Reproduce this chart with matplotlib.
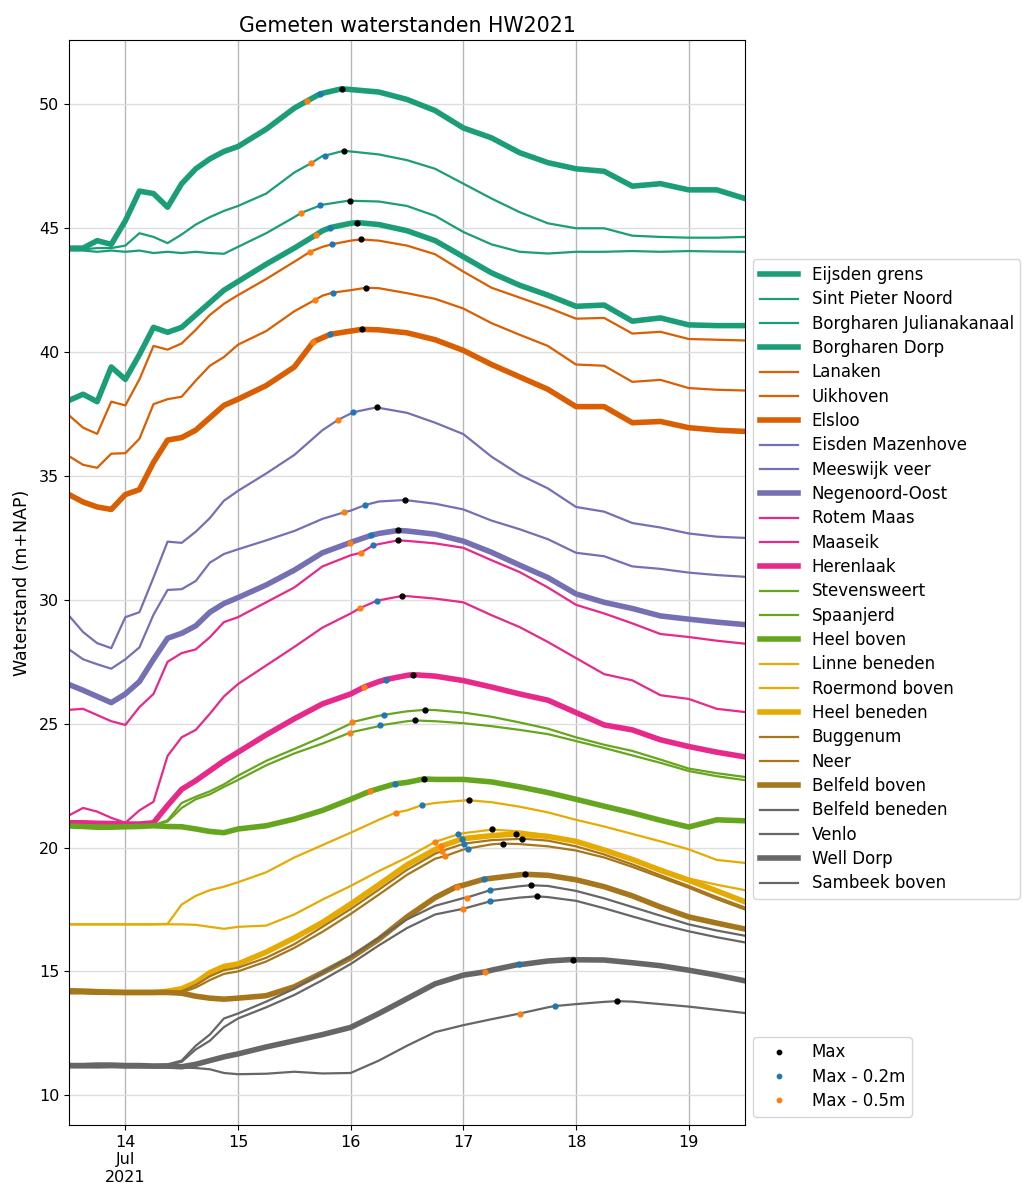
#!/usr/bin/env python3
"""Measured water levels along the Meuse during the July 2021 flood (HW2021),
one line per gauge, with the peak and the moments the rising limb came
within 0.2 m and 0.5 m of that peak."""
import matplotlib

matplotlib.use("Agg")

import matplotlib.pyplot as plt
import numpy as np
import pandas as pd

# Time axis, day of July 2021 (fractional days).
DAYS = [13.5, 13.625, 13.75, 13.875, 14.0, 14.125, 14.25, 14.375, 14.5, 14.625,
        14.75, 14.875, 15.0, 15.25, 15.5, 15.75, 16.0, 16.25, 16.5, 16.75,
        17.0, 17.25, 17.5, 17.75, 18.0, 18.25, 18.5, 18.75, 19.0, 19.25, 19.5]

# Water levels in m+NAP per gauge, on DAYS.
eijsden_grens = [44.2, 44.2, 44.5, 44.35, 45.3, 46.5, 46.4, 45.85, 46.8, 47.4, 47.8, 48.1, 48.3, 49.0, 49.85, 50.45,
                 50.6, 50.5, 50.2, 49.75, 49.05, 48.65, 48.05, 47.65, 47.4, 47.3, 46.7, 46.8, 46.55, 46.55, 46.2]
sint_pieter_noord = [44.15, 44.15, 44.2, 44.2, 44.3, 44.8, 44.65, 44.4, 44.75, 45.15, 45.45, 45.7, 45.9, 46.4, 47.25,
                     47.92, 48.1, 47.98, 47.75, 47.4, 46.8, 46.2, 45.65, 45.2, 45.0, 45.0, 44.7, 44.65, 44.62, 44.62,
                     44.65]
borgharen_julianakanaal = [44.1, 44.1, 44.05, 44.1, 44.05, 44.1, 44.0, 44.05, 44.0, 44.05, 44.0, 43.97, 44.25, 44.8,
                           45.45, 45.95, 46.11, 46.08, 45.9, 45.5, 44.85, 44.35, 44.05, 43.98, 44.05, 44.05, 44.08,
                           44.05, 44.08, 44.06, 44.05]
borgharen_dorp = [38.05, 38.3, 38.0, 39.4, 38.9, 39.9, 41.0, 40.8, 41.0, 41.5, 42.0, 42.5, 42.85, 43.55, 44.2, 44.9,
                  45.2, 45.15, 44.9, 44.5, 43.85, 43.2, 42.7, 42.3, 41.85, 41.9, 41.25, 41.38, 41.1, 41.07, 41.07]
lanaken = [37.45, 36.95, 36.7, 38.0, 37.85, 38.9, 40.25, 40.1, 40.35, 40.9, 41.5, 41.95, 42.3, 42.95, 43.65, 44.25,
           44.5, 44.5, 44.3, 43.95, 43.25, 42.6, 42.2, 41.8, 41.35, 41.38, 40.75, 40.82, 40.53, 40.5, 40.47]
uikhoven = [35.8, 35.45, 35.33, 35.9, 35.92, 36.5, 37.9, 38.1, 38.2, 38.85, 39.45, 39.8, 40.3, 40.85, 41.65, 42.28,
            42.5, 42.58, 42.38, 42.15, 41.76, 41.17, 40.7, 40.25, 39.5, 39.45, 38.8, 38.88, 38.55, 38.48, 38.45]
elsloo = [34.25, 33.95, 33.75, 33.65, 34.25, 34.45, 35.55, 36.45, 36.55, 36.85, 37.35, 37.85, 38.1, 38.65, 39.4, 40.58,
          40.85, 40.9, 40.78, 40.5, 40.07, 39.5, 39.0, 38.5, 37.8, 37.8, 37.15, 37.2, 36.95, 36.85, 36.8]
eisden_mazenhove = [29.36, 28.7, 28.25, 28.05, 29.3, 29.5, 30.9, 32.35, 32.3, 32.75, 33.3, 34.0, 34.4, 35.1, 35.85,
                    36.85, 37.52, 37.75, 37.55, 37.15, 36.69, 35.78, 35.05, 34.5, 33.75, 33.56, 33.1, 32.92, 32.68,
                    32.55, 32.5]
meeswijk_veer = [28.0, 27.6, 27.4, 27.22, 27.6, 28.08, 29.4, 30.4, 30.43, 30.76, 31.5, 31.85, 32.04, 32.4, 32.78,
                 33.27, 33.6, 33.97, 34.02, 33.88, 33.65, 33.2, 32.85, 32.45, 31.9, 31.76, 31.35, 31.25, 31.1, 31.0,
                 30.93]
negenoord_oost = [26.58, 26.35, 26.1, 25.85, 26.2, 26.7, 27.6, 28.45, 28.65, 28.95, 29.5, 29.85, 30.09, 30.6, 31.2,
                  31.9, 32.32, 32.68, 32.78, 32.65, 32.37, 31.92, 31.4, 30.9, 30.24, 29.9, 29.65, 29.35, 29.22, 29.1,
                  29.0]
rotem_maas = [25.56, 25.6, 25.35, 25.1, 24.95, 25.67, 26.2, 27.5, 27.85, 28.0, 28.49, 29.1, 29.3, 29.9, 30.5, 31.35,
              31.8, 32.25, 32.38, 32.28, 32.1, 31.6, 31.12, 30.5, 29.8, 29.45, 29.05, 28.62, 28.5, 28.35, 28.23]
maaseik = [21.3, 21.6, 21.45, 21.2, 21.0, 21.5, 21.85, 23.7, 24.45, 24.75, 25.4, 26.1, 26.6, 27.35, 28.1, 28.88,
           29.45, 29.98, 30.15, 30.05, 29.9, 29.38, 28.9, 28.3, 27.65, 27.0, 26.75, 26.15, 26.0, 25.6, 25.47]
herenlaak = [21.0, 21.0, 20.98, 20.97, 20.95, 20.95, 21.0, 21.7, 22.35, 22.7, 23.1, 23.5, 23.85, 24.55, 25.2, 25.8,
             26.2, 26.7, 26.95, 26.92, 26.74, 26.48, 26.2, 25.95, 25.45, 24.95, 24.75, 24.35, 24.08, 23.85, 23.66]
stevensweert = [20.9, 20.9, 20.88, 20.87, 20.87, 20.87, 20.9, 21.1, 21.8, 22.05, 22.27, 22.55, 22.9, 23.5, 23.98,
                24.47, 25.0, 25.32, 25.5, 25.55, 25.45, 25.28, 25.05, 24.8, 24.45, 24.15, 23.9, 23.55, 23.19, 23.0,
                22.85]
spaanjerd = [20.9, 20.9, 20.88, 20.87, 20.87, 20.87, 20.9, 21.05, 21.6, 21.95, 22.15, 22.45, 22.73, 23.32, 23.8, 24.2,
             24.65, 24.9, 25.1, 25.1, 25.02, 24.9, 24.75, 24.58, 24.3, 24.02, 23.72, 23.42, 23.09, 22.88, 22.72]
heel_boven = [20.87, 20.85, 20.82, 20.82, 20.84, 20.85, 20.88, 20.85, 20.84, 20.75, 20.65, 20.6, 20.75, 20.88, 21.15,
              21.5, 21.95, 22.38, 22.63, 22.75, 22.75, 22.65, 22.45, 22.22, 21.95, 21.67, 21.4, 21.1, 20.83, 21.12,
              21.08]
linne_beneden = [16.9, 16.9, 16.9, 16.9, 16.9, 16.9, 16.9, 16.92, 17.7, 18.05, 18.28, 18.42, 18.6, 19.0, 19.6, 20.1,
                 20.6, 21.12, 21.5, 21.8, 21.9, 21.83, 21.65, 21.42, 21.12, 20.85, 20.55, 20.25, 19.93, 19.5, 19.38]
roermond_boven = [16.9, 16.9, 16.9, 16.9, 16.9, 16.9, 16.9, 16.9, 16.9, 16.88, 16.8, 16.72, 16.8, 16.85, 17.3, 17.9,
                  18.45, 19.05, 19.6, 20.23, 20.58, 20.72, 20.65, 20.5, 20.25, 19.95, 19.55, 19.15, 18.75, 18.5, 18.28]
heel_beneden = [14.2, 14.2, 14.18, 14.18, 14.15, 14.15, 14.15, 14.2, 14.3, 14.55, 14.95, 15.2, 15.3, 15.78, 16.35,
                16.98, 17.72, 18.5, 19.3, 19.92, 20.36, 20.48, 20.54, 20.45, 20.25, 19.9, 19.52, 19.08, 18.68, 18.25,
                17.81]
buggenum = [14.12, 14.12, 14.1, 14.1, 14.1, 14.1, 14.1, 14.12, 14.2, 14.45, 14.8, 15.05, 15.15, 15.55, 16.1, 16.8,
            17.52, 18.3, 19.1, 19.75, 20.15, 20.3, 20.35, 20.28, 20.05, 19.72, 19.32, 18.88, 18.45, 18.0, 17.58]
neer = [14.12, 14.12, 14.1, 14.1, 14.1, 14.1, 14.1, 14.12, 14.15, 14.35, 14.65, 14.9, 15.0, 15.4, 15.95, 16.6, 17.32,
        18.1, 18.9, 19.55, 19.92, 20.13, 20.14, 20.05, 19.88, 19.6, 19.22, 18.8, 18.38, 17.92, 17.5]
belfeld_boven = [14.22, 14.2, 14.18, 14.15, 14.15, 14.15, 14.15, 14.15, 14.12, 14.0, 13.92, 13.88, 13.92, 14.02, 14.38,
                 14.95, 15.55, 16.3, 17.2, 17.98, 18.48, 18.76, 18.9, 18.88, 18.7, 18.42, 18.05, 17.6, 17.2, 16.95,
                 16.71]
belfeld_beneden = [11.2, 11.2, 11.2, 11.2, 11.2, 11.2, 11.22, 11.25, 11.4, 12.0, 12.45, 13.1, 13.3, 13.78, 14.3, 14.95,
                   15.6, 16.35, 17.1, 17.65, 17.96, 18.29, 18.44, 18.45, 18.25, 17.95, 17.6, 17.25, 16.9, 16.65, 16.44]
venlo = [11.2, 11.2, 11.2, 11.2, 11.2, 11.2, 11.2, 11.22, 11.35, 11.85, 12.2, 12.75, 13.1, 13.55, 14.05, 14.65, 15.3,
         16.05, 16.75, 17.3, 17.53, 17.84, 17.98, 18.0, 17.85, 17.55, 17.22, 16.9, 16.62, 16.38, 16.17]
well_dorp = [11.2, 11.2, 11.22, 11.22, 11.2, 11.2, 11.18, 11.18, 11.15, 11.25, 11.4, 11.55, 11.67, 11.95, 12.2, 12.45,
             12.74, 13.3, 13.9, 14.5, 14.85, 15.05, 15.27, 15.42, 15.47, 15.46, 15.35, 15.23, 15.05, 14.85, 14.62]
sambeek_boven = [11.13, 11.13, 11.12, 11.13, 11.12, 11.12, 11.12, 11.12, 11.12, 11.1, 11.05, 10.9, 10.85, 10.87,
                 10.95, 10.88, 10.9, 11.4, 12.0, 12.55, 12.83, 13.07, 13.3, 13.55, 13.68, 13.77, 13.78, 13.68, 13.58,
                 13.45, 13.32]

STATIONS = [
    ("Eijsden grens", eijsden_grens),
    ("Sint Pieter Noord", sint_pieter_noord),
    ("Borgharen Julianakanaal", borgharen_julianakanaal),
    ("Borgharen Dorp", borgharen_dorp),
    ("Lanaken", lanaken),
    ("Uikhoven", uikhoven),
    ("Elsloo", elsloo),
    ("Eisden Mazenhove", eisden_mazenhove),
    ("Meeswijk veer", meeswijk_veer),
    ("Negenoord-Oost", negenoord_oost),
    ("Rotem Maas", rotem_maas),
    ("Maaseik", maaseik),
    ("Herenlaak", herenlaak),
    ("Stevensweert", stevensweert),
    ("Spaanjerd", spaanjerd),
    ("Heel boven", heel_boven),
    ("Linne beneden", linne_beneden),
    ("Roermond boven", roermond_boven),
    ("Heel beneden", heel_beneden),
    ("Buggenum", buggenum),
    ("Neer", neer),
    ("Belfeld boven", belfeld_boven),
    ("Belfeld beneden", belfeld_beneden),
    ("Venlo", venlo),
    ("Well Dorp", well_dorp),
    ("Sambeek boven", sambeek_boven),
]

# Peak (day, level) per gauge, and the days the rising limb reached max - 0.2 m / max - 0.5 m.
PEAK_DAY = [15.92, 15.94, 15.99, 16.06, 16.09, 16.14, 16.10, 16.23, 16.48, 16.42, 16.42, 16.46, 16.55,
            16.66, 16.57, 16.65, 17.05, 17.25, 17.47, 17.52, 17.35, 17.55, 17.60, 17.65, 17.97, 18.36]
PEAK_LEVEL = [50.63, 48.13, 46.12, 45.23, 44.55, 42.60, 40.92, 37.77, 34.03, 32.80, 32.40, 30.16, 26.98,
              25.56, 25.13, 22.77, 21.91, 20.73, 20.55, 20.36, 20.16, 18.92, 18.48, 18.03, 15.48, 13.80]
DAY_MAX_02 = [15.73, 15.77, 15.73, 15.82, 15.83, 15.84, 15.82, 16.02, 16.13, 16.18, 16.20, 16.23, 16.31,
              16.30, 16.26, 16.39, 16.63, 16.95, 16.99, 17.01, 17.04, 17.18, 17.24, 17.24, 17.49, 17.81]
DAY_MAX_05 = [15.61, 15.65, 15.56, 15.69, 15.64, 15.68, 15.67, 15.89, 15.94, 15.99, 16.09, 16.08, 16.12,
              16.01, 15.99, 16.17, 16.40, 16.75, 16.80, 16.81, 16.84, 16.94, 17.03, 17.00, 17.19, 17.50]

THICK = {"Eijsden grens", "Borgharen Dorp", "Elsloo", "Negenoord-Oost", "Herenlaak",
         "Heel boven", "Heel beneden", "Belfeld boven", "Well Dorp"}

# Dark2 colour per river stretch, and how many gauges share it.
STRETCH_COLOURS = ["#1b9e77", "#d95f02", "#7570b3", "#e7298a", "#66a61e", "#e6ab02", "#a6761d", "#666666"]
STRETCH_SIZES = [4, 3, 3, 3, 3, 3, 3, 4]


def to_time(days):
    days = np.atleast_1d(np.asarray(days, dtype=float))
    return pd.Timestamp("2021-07-01") + pd.to_timedelta(days - 1.0, unit="D")


def main() -> None:
    plt.rcParams["font.size"] = 12

    colours = [c for c, n in zip(STRETCH_COLOURS, STRETCH_SIZES) for _ in range(n)]

    fig = plt.figure(figsize=(10.25, 11.88), dpi=100)
    ax = fig.add_axes([69 / 1025, 1 - 1125 / 1188, (745 - 69) / 1025, (1125 - 40) / 1188])

    line_handles = []
    for i, ((name, levels), colour) in enumerate(zip(STATIONS, colours)):
        # the marker moments sit on the curve, so draw the curve through them
        peak = PEAK_LEVEL[i]
        d = np.array(DAYS + [PEAK_DAY[i], DAY_MAX_02[i], DAY_MAX_05[i]])
        h = np.array(levels + [peak, peak - 0.2, peak - 0.5])
        order = np.argsort(d, kind="stable")
        lw = 4.0 if name in THICK else 1.6
        (ln,) = ax.plot(to_time(d[order]), h[order], color=colour, lw=lw, label=name)
        line_handles.append(ln)

    peak = np.array(PEAK_LEVEL)
    m0 = ax.plot(to_time(PEAK_DAY), peak, "o", ms=3.5, color="k", ls="none", label="Max", zorder=5)[0]
    m2 = ax.plot(to_time(DAY_MAX_02), peak - 0.2, "o", ms=3.5, color="tab:blue", ls="none",
                 label="Max - 0.2m", zorder=5)[0]
    m5 = ax.plot(to_time(DAY_MAX_05), peak - 0.5, "o", ms=3.5, color="tab:orange", ls="none",
                 label="Max - 0.5m", zorder=5)[0]

    ax.set_xlim(to_time([13.5, 19.5]))
    ax.set_ylim(8.8, 52.6)
    ticks = list(range(14, 20))
    ax.set_xticks(to_time(ticks))
    ax.set_xticklabels(["14\nJul\n2021"] + [str(t) for t in ticks[1:]], fontsize=11.5)
    ax.set_yticks(range(10, 51, 5))
    ax.tick_params(axis="y", labelsize=11.5)
    ax.xaxis.grid(True, color="#b8b8b8", lw=1.0)
    ax.yaxis.grid(True, color="#dedede", lw=1.0)
    ax.set_axisbelow(True)

    ax.set_ylabel("Waterstand (m+NAP)", fontsize=12.5, labelpad=6)
    ax.set_title("Gemeten waterstanden HW2021", fontsize=14.8, pad=6)

    leg = ax.legend(handles=line_handles, loc="center left", bbox_to_anchor=(1.0, 0.503),
                    handlelength=2.3, labelspacing=0.38, borderaxespad=0.5)
    ax.add_artist(leg)
    ax.legend(handles=[m0, m2, m5], loc="lower left", bbox_to_anchor=(1.0, 0.0),
              handlelength=2.3, labelspacing=0.38, markerscale=0.9)

    fig.savefig("out.png", dpi=100)
    plt.close(fig)


if __name__ == "__main__":
    main()
